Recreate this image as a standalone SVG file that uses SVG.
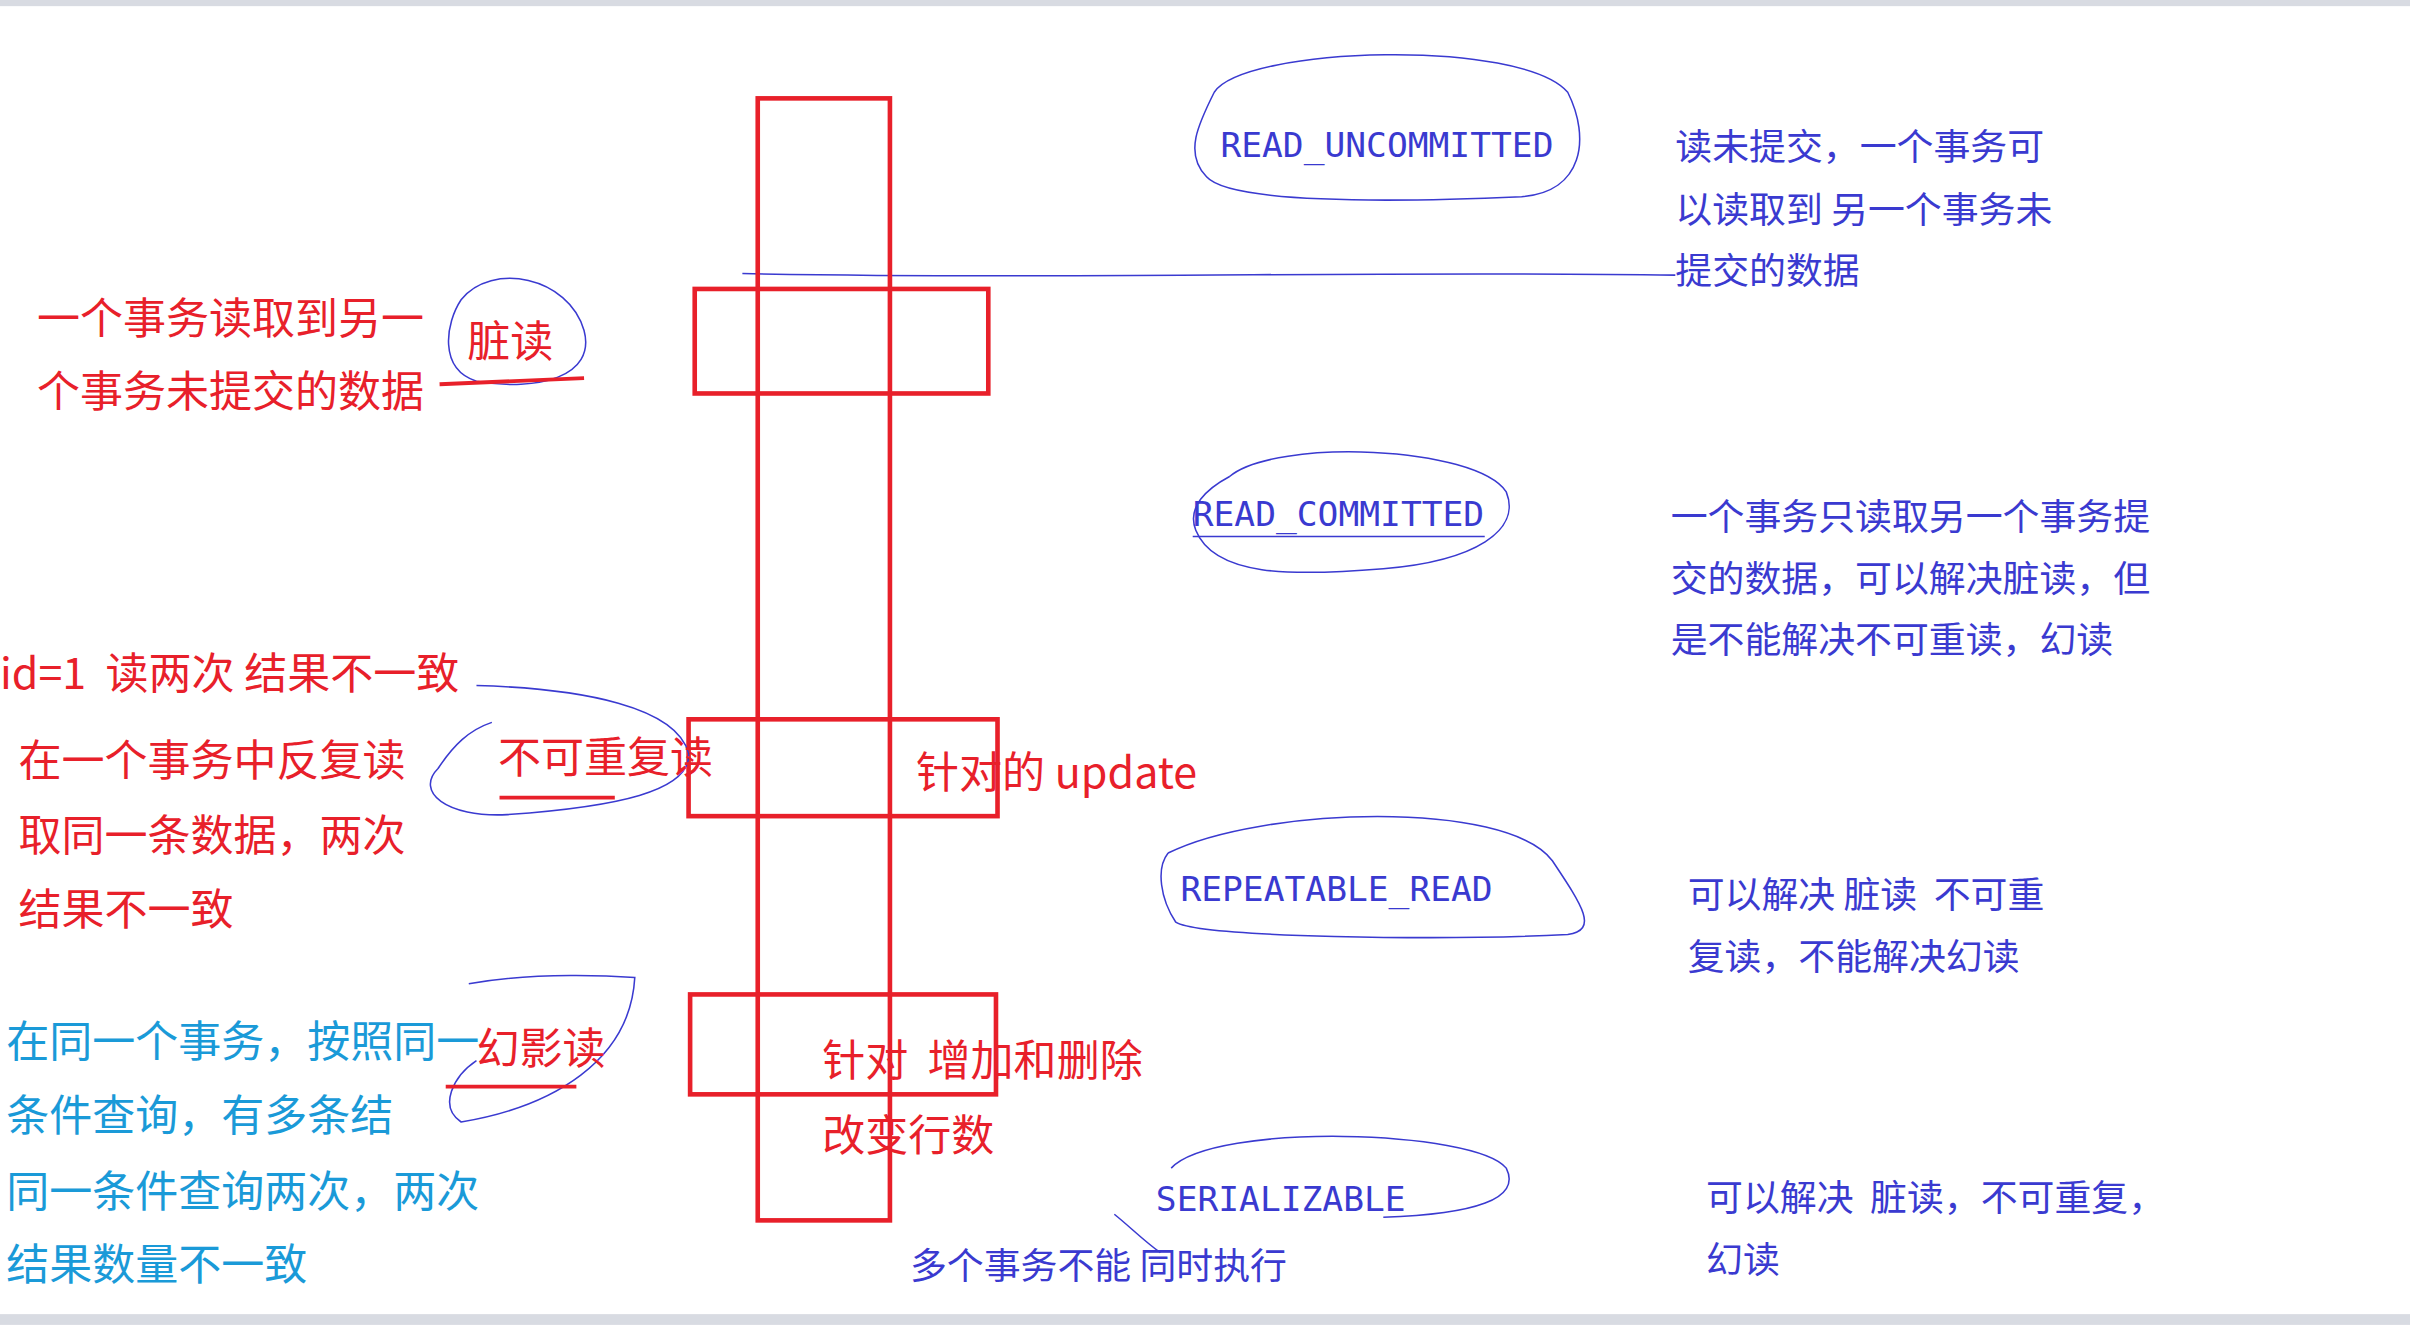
<svg xmlns="http://www.w3.org/2000/svg" width="2410" height="1325" viewBox="0 0 2410 1325">
<style>
text{white-space:pre}
.r{fill:none;stroke:#e8202a;stroke-width:3}
.b{fill:none;stroke:#3a3ad0;stroke-width:1}
.u{fill:none;stroke:#e8202a;stroke-width:2.5}
.cr{font-family:"Noto Sans CJK SC","Liberation Sans",sans-serif;font-size:28px;fill:#e8202a}
.cb{font-family:"Noto Sans CJK SC","Liberation Sans",sans-serif;font-size:24px;fill:#3a3ad0}
.cc{font-family:"Noto Sans CJK SC","Liberation Sans",sans-serif;font-size:28px;fill:#1a9ad8}
.m{font-family:"DejaVu Sans Mono",monospace;font-size:22.5px;fill:#3a3ad0}
</style>
<rect width="2410" height="1325" fill="#fff"/>
<g transform="scale(1.537)">
<rect x="0" y="0" width="1568" height="4" fill="#d8dbe2"/>
<rect x="0" y="855" width="1568" height="7" fill="#d8dbe2"/>
<g id="connectors">
<path class="b" d="M483 178 C700 182 900 176 1090 179"/>
</g>
<g id="bars">
<rect class="r" x="493" y="64" width="86" height="730"/>
<rect class="r" x="452" y="188" width="191" height="68"/>
<rect class="r" x="448" y="468" width="201" height="63"/>
<rect class="r" x="449" y="647" width="199" height="65"/>
</g>
<g id="ru">
<path class="b" d="M790 60 C810 30 990 25 1020 60 C1035 90 1030 125 990 128 C900 132 800 132 785 115 C770 100 780 80 790 60"/>
<text class="m" x="794" y="102">READ_UNCOMMITTED</text>
</g>
<g id="rc">
<path class="b" d="M800 310 C830 285 960 290 980 320 C990 345 960 365 900 370 C840 375 790 375 778 345 C772 330 785 318 800 310"/>
<text class="m" x="776" y="342">READ_COMMITTED</text>
<line class="b" x1="776" y1="349" x2="966" y2="349"/>
</g>
<g id="rr">
<path class="b" d="M760 555 C820 525 980 520 1010 560 C1030 590 1040 605 1020 608 C940 612 780 610 765 600 C755 585 752 565 760 555"/>
<text class="m" x="768" y="586">REPEATABLE_READ</text>
</g>
<g id="se">
<path class="b" d="M762 760 C790 730 960 735 980 760 C990 780 960 790 900 792 M725 790 C735 798 745 808 755 815"/>
<text class="m" x="752" y="788">SERIALIZABLE</text>
</g>
<g id="d1">
<text class="cb" x="1090" y="104">读未提交，一个事务可</text>
<text class="cb" x="1090" y="145">以读取到 另一个事务未</text>
<text class="cb" x="1090" y="185">提交的数据</text>
</g>
<g id="d2">
<text class="cb" x="1087" y="345">一个事务只读取另一个事务提</text>
<text class="cb" x="1087" y="385">交的数据，可以解决脏读，但</text>
<text class="cb" x="1087" y="425">是不能解决不可重读，幻读</text>
</g>
<g id="d3">
<text class="cb" x="1098" y="591">可以解决 脏读  不可重</text>
<text class="cb" x="1098" y="631">复读，不能解决幻读</text>
</g>
<g id="d4">
<text class="cb" x="1110" y="788">可以解决  脏读，不可重复，</text>
<text class="cb" x="1110" y="828">幻读</text>
</g>
<text class="cb" x="592" y="832">多个事务不能 同时执行</text>
<g id="dirty">
<path class="b" d="M300 195 C320 170 370 180 380 215 C388 245 350 255 310 248 C285 240 290 210 300 195"/>
<text class="cr" x="304" y="232">脏读</text>
<line class="u" x1="286" y1="250" x2="380" y2="246"/>
<text class="cr" x="24" y="217">一个事务读取到另一</text>
<text class="cr" x="24" y="265">个事务未提交的数据</text>
</g>
<g id="nr">
<path class="b" d="M310 446 C380 448 440 460 448 490 C450 515 400 525 330 530 C290 532 270 515 285 500 C295 485 305 475 320 470"/>
<text class="cr" x="324" y="503">不可重复读</text>
<line class="u" x1="325" y1="519" x2="400" y2="519"/>
<text class="cr" x="0" y="448">id=1  读两次 结果不一致</text>
<text class="cr" x="12" y="505">在一个事务中反复读</text>
<text class="cr" x="12" y="554">取同一条数据，两次</text>
<text class="cr" x="12" y="602">结果不一致</text>
<text class="cr" x="596" y="513">针对的 update</text>
</g>
<g id="ph">
<path class="b" d="M305 640 C350 632 400 635 413 636 C410 690 360 720 300 730 C285 720 295 700 310 690"/>
<text class="cr" x="310" y="692">幻影读</text>
<line class="u" x1="290" y1="707" x2="375" y2="707"/>
<text class="cc" x="4" y="688">在同一个事务，按照同一</text>
<text class="cc" x="4" y="736">条件查询，有多条结</text>
<text class="cc" x="4" y="785">同一条件查询两次，两次</text>
<text class="cc" x="4" y="833">结果数量不一致</text>
<text class="cr" x="535" y="700">针对  增加和删除</text>
<text class="cr" x="535" y="749">改变行数</text>
</g>
</g>
</svg>
